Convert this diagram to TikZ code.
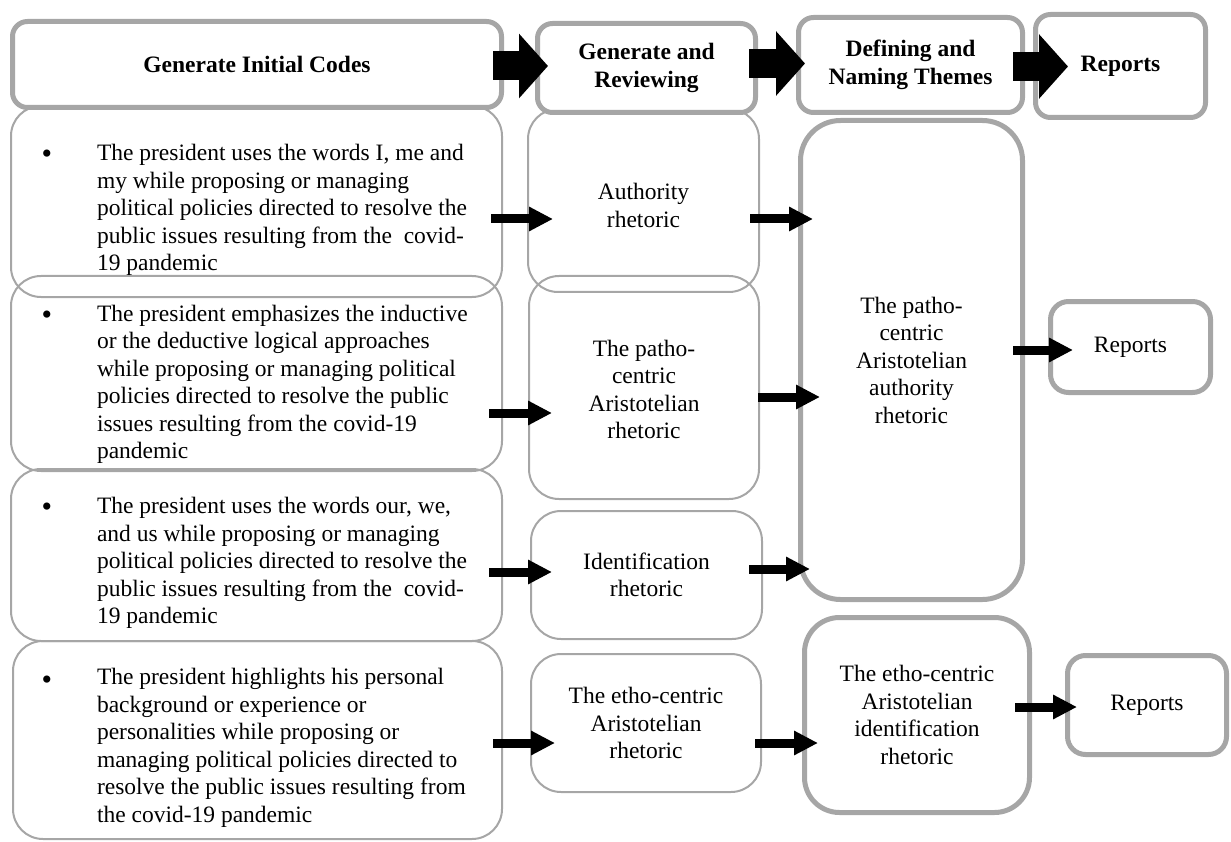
\documentclass[tikz,border=0pt]{standalone}
\usepackage{fontspec}
\setmainfont{Liberation Serif}
\usetikzlibrary{arrows.meta}
\definecolor{bgray}{HTML}{A6A6A6}
\begin{document}
\begin{tikzpicture}[x=1pt,y=-1pt,
  every node/.style={font=\fontsize{23.5}{27.5}\selectfont, inner sep=0pt, outer sep=0pt},
  cbox/.style={draw=bgray, line width=2pt, rounded corners=30pt, rectangle, align=center},
  hbox/.style={draw=bgray, fill=white, line width=5pt, rounded corners=15pt, rectangle, align=center,
               font=\fontsize{23.5}{28}\selectfont\bfseries},
  tbox/.style={draw=bgray, fill=white, line width=5pt, rounded corners=35pt, rectangle, align=center},
  rbox/.style={draw=bgray, fill=white, line width=5pt, rounded corners=18pt, rectangle, align=center},
  btext/.style={align=left, anchor=west},
  bull/.style={font=\fontsize{30}{30}\selectfont},
  sarr/.style={line width=9pt, -{Triangle[length=24pt,width=23pt]}},
  barr/.style={line width=29pt, -{Triangle[length=29pt,width=63pt]}}
]
\useasboundingbox (0,0) rectangle (1231,842);

% ---- column 1: codes
\node[cbox, minimum width=491pt, minimum height=191pt] (b1) at (256.5,201.5) {};
\node[cbox, minimum width=491pt, minimum height=195pt] (b2) at (256.5,373.5) {};
\node[cbox, minimum width=491pt, minimum height=172pt] (b3) at (256.5,555) {};
\node[cbox, minimum width=489pt, minimum height=198pt] (b4) at (257.5,740) {};

\node[bull] (d1) at (47,157) {\textbullet};
\node[btext] (t1) at (97,210) {The president uses the words I, me and\\
my while proposing or managing\\
political policies directed to resolve the\\
public issues resulting from the \ covid-\\
19 pandemic};
\node[bull] (d2) at (47,318) {\textbullet};
\node[btext] (t2) at (97,384.5) {The president emphasizes the inductive\\
or the deductive logical approaches\\
while proposing or managing political\\
policies directed to resolve the public\\
issues resulting from the covid-19\\
pandemic};
\node[bull] (d3) at (47,510) {\textbullet};
\node[btext] (t3) at (97,563) {The president uses the words our, we,\\
and us while proposing or managing\\
political policies directed to resolve the\\
public issues resulting from the \ covid-\\
19 pandemic};
\node[bull] (d4) at (47,683) {\textbullet};
\node[btext] (t4) at (97,748) {The president highlights his personal\\
background or experience or\\
personalities while proposing or\\
managing political policies directed to\\
resolve the public issues resulting from\\
the covid-19 pandemic};

% ---- column 2: reviewing
\node[cbox, minimum width=231pt, minimum height=183pt] (c1) at (643.5,200.5) {};
\node[align=center] (c1t) at (643.5,205.5) {Authority\\rhetoric};
\node[cbox, minimum width=230pt, minimum height=223pt] (c2) at (644,387.5) {};
\node[align=center] (c2t) at (644,389.5) {The patho-\\centric\\Aristotelian\\rhetoric};
\node[cbox, minimum width=231pt, minimum height=128pt] (c3) at (646.5,575) {Identification\\rhetoric};
\node[cbox, minimum width=230pt, minimum height=138pt] (c4) at (646,723) {The etho-centric\\Aristotelian\\rhetoric};

% ---- header row
\node[hbox, minimum width=489pt, minimum height=86pt] (h1) at (257,64.5) {Generate Initial Codes};
\node[hbox, minimum width=218pt, minimum height=89pt] (h2) at (646.5,68) {Generate and\\Reviewing};
\node[hbox, minimum width=224pt, minimum height=95pt] (h3) at (910.5,65) {Defining and\\Naming Themes};
\node[hbox, minimum width=170pt, minimum height=103pt] (h4) at (1120.5,66) {Reports};

% ---- column 3: themes
\node[tbox, rounded corners=40pt, minimum width=222pt, minimum height=479pt] (big) at (911.5,360)
  {The patho-\\centric\\Aristotelian\\authority\\rhetoric};
\node[tbox, minimum width=225pt, minimum height=195pt] (etho) at (917,715)
  {The etho-centric\\Aristotelian\\identification\\rhetoric};

% ---- column 4: reports
\node[rbox, minimum width=160pt, minimum height=91pt] (r2) at (1130.5,347) {Reports};
\node[rbox, minimum width=159pt, minimum height=99pt] (r4) at (1147,705) {Reports};

% ---- levels
\coordinate (yh1) at (0,66);
\coordinate (yh2) at (0,63.5);
\coordinate (yh3) at (0,66.5);
\coordinate (y1) at (0,219);
\coordinate (y2) at (0,413);
\coordinate (y3) at (0,572);
\coordinate (y4) at (0,743);
\coordinate (y5) at (0,397);
\coordinate (y6) at (0,569);
\coordinate (y7) at (0,350);
\coordinate (y8) at (0,707);

% ---- header block arrows
\draw[barr, shorten <=-8.5pt, shorten >=-10.5pt] (h1.east |- yh1) -- (h2.west |- yh1);
\draw[barr, shorten <=-6.5pt, shorten >=-6.5pt] (h2.east |- yh2) -- (h3.west |- yh2);
\draw[barr, shorten <=-9.5pt, shorten >=-32.5pt] (h3.east |- yh3) -- (h4.west |- yh3);

% ---- row arrows
\draw[sarr, shorten <=-11pt, shorten >=-25pt] (b1.east |- y1) -- (c1.west |- y1);
\draw[sarr, shorten <=-13pt, shorten >=-23pt] (b2.east |- y2) -- (c2.west |- y2);
\draw[sarr, shorten <=-13pt, shorten >=-21pt] (b3.east |- y3) -- (c3.west |- y3);
\draw[sarr, shorten <=-9pt, shorten >=-24pt] (b4.east |- y4) -- (c4.west |- y4);

\draw[sarr, shorten <=-9pt, shorten >=-12.5pt] (c1.east |- y1) -- (big.west |- y1);
\draw[sarr, shorten <=-1pt, shorten >=-19.5pt] (c2.east |- y5) -- (big.west |- y5);
\draw[sarr, shorten <=-13pt, shorten >=-9.5pt] (c3.east |- y6) -- (big.west |- y6);
\draw[sarr, shorten <=-6pt, shorten >=-13.5pt] (c4.east |- y4) -- (etho.west |- y4);

\draw[sarr, shorten <=-9.5pt, shorten >=-22.5pt] (big.east |- y7) -- (r2.west |- y7);
\draw[sarr, shorten <=-14.5pt, shorten >=-9.5pt] (etho.east |- y8) -- (r4.west |- y8);
\end{tikzpicture}
\end{document}
